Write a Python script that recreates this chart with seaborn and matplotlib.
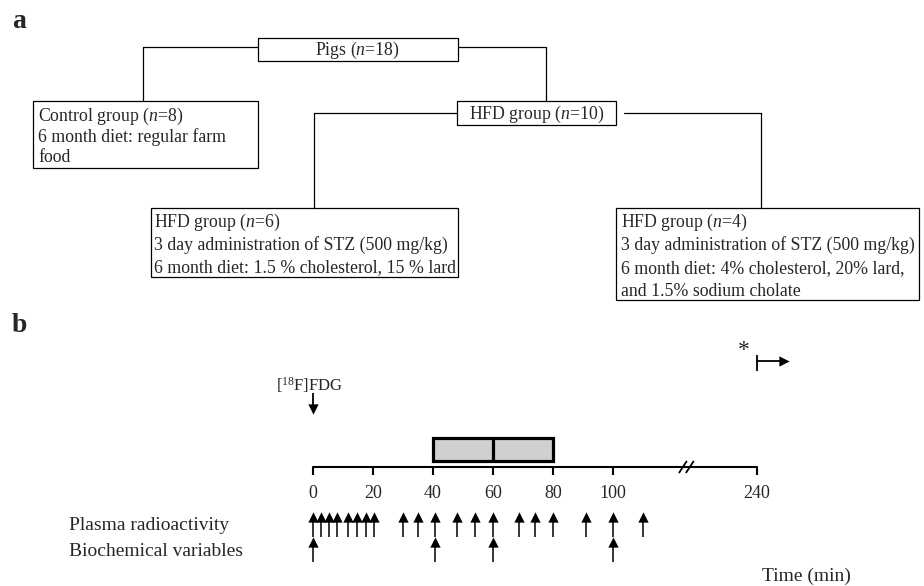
import matplotlib.pyplot as plt
import matplotlib.patches as mpatches
import seaborn as sns
import pandas as pd

# --- panel a: study groups
pigs_label = 'Pigs ($n$=18)'
control_lines = ['Control group ($n$=8)', '6 month diet: regular farm', 'food']
hfd_label = 'HFD group ($n$=10)'
hfd6_lines = ['HFD group ($n$=6)', '3 day administration of STZ (500 mg/kg)',
              '6 month diet: 1.5 % cholesterol, 15 % lard']
hfd4_lines = ['HFD group ($n$=4)', '3 day administration of STZ (500 mg/kg)',
              '6 month diet: 4% cholesterol, 20% lard,', 'and 1.5% sodium cholate']

# --- panel b: protocol timeline (min)
tick_times = [0, 20, 40, 60, 80, 100, 240]
plasma_times = [0, 2.6, 5.3, 8, 11.6, 14.5, 17.5, 20.4, 30, 35, 40.5,
                48, 54, 60, 68.5, 74, 80, 91, 100, 110]
biochem_times = [0, 40.5, 60, 100]
scan_times = [40, 60, 80]
fdg_time = 0
end_time = 240

sns.set_theme(style='white')
plt.rcParams['font.family'] = ['Liberation Serif', 'DejaVu Serif']
plt.rcParams['mathtext.fontset'] = 'custom'
plt.rcParams['mathtext.rm'] = 'Liberation Serif'
plt.rcParams['mathtext.it'] = 'Liberation Serif:italic'
plt.rcParams['mathtext.bf'] = 'Liberation Serif:bold'

fs = 12.8
lw = 0.9

fig = plt.figure(figsize=(9.24, 5.86), dpi=100)

# flow chart drawn in pixel units
ax = fig.add_axes([0, 0, 1, 1])
ax.set_xlim(0, 924)
ax.set_ylim(586, 0)
ax.axis('off')


def box(x0, y0, x1, y1):
    ax.add_patch(mpatches.Rectangle((x0, y0), x1 - x0, y1 - y0, fill=False,
                                    ec='black', lw=lw))


def lines(x, y0, lines_, step=22.5):
    for i, s in enumerate(lines_):
        ax.text(x, y0 + i * step, s, fontsize=fs, ha='left', va='center')


ax.text(12, 28, 'a', fontsize=20, fontweight='bold', va='baseline')
ax.text(12, 332, 'b', fontsize=20, fontweight='bold', va='baseline')

box(257.5, 37.5, 457.5, 61)
ax.text(357.5, 50.5, pigs_label, fontsize=fs, ha='center', va='center')
ax.plot([257.5, 143, 143], [47, 47, 100.5], color='black', lw=lw)
ax.plot([457.5, 546, 546], [47, 47, 100.5], color='black', lw=lw)

box(32.5, 100.5, 257.5, 167.5)
lines(38, 116.5, control_lines, step=20.5)

box(457, 100.5, 615.5, 124.5)
ax.text(536.5, 114, hfd_label, fontsize=fs, ha='center', va='center')
ax.plot([457, 314, 314], [113, 113, 207.5], color='black', lw=lw)
ax.plot([624, 760.5, 760.5], [113, 113, 207.5], color='black', lw=lw)

box(150.5, 207.5, 457.5, 277)
lines(154.5, 222, hfd6_lines, step=23)

box(616, 207.5, 919, 300)
lines(621, 222, hfd4_lines, step=23.2)

# timeline drawn in minutes (x) and pixels (y)
axt = fig.add_axes([0, 0, 1, 1], facecolor='none')


def tpos(t):
    # axis is broken after ~120 min, 240 min sits at 148
    return t if t <= 120 else 148


tfs = 14
axis_y = 467
axt.plot([tpos(0), tpos(end_time)], [axis_y, axis_y], color='black', lw=1.5)
axt.vlines([tpos(t) for t in tick_times], axis_y, axis_y + 8, color='black', lw=1.5)
for t in tick_times:
    axt.text(tpos(t), 493, str(t), fontsize=13, ha='center', va='center')
for p in [123.3, 125.6]:
    axt.plot([p - 1.2, p + 1.2], [472.5, 461.5], color='black', lw=1.3)

# PET scan frames
axt.add_patch(mpatches.Rectangle((scan_times[0], 438), scan_times[-1] - scan_times[0], 23,
                                 fc='#d0d0d0', ec='black', lw=2.3, zorder=3))
axt.vlines(scan_times[1], 438, 461, color='black', lw=2.3, zorder=4)

# injection
axt.text(tpos(fdg_time) - 1.3, 385, '[$^{18}$F]FDG', fontsize=12, ha='center', va='center')
axt.vlines(tpos(fdg_time), 393, 408, color='black', lw=1.3)
sns.scatterplot(data=pd.DataFrame({'x': [tpos(fdg_time)], 'y': [409]}), x='x', y='y',
                marker='v', s=55, color='black', edgecolor='black', linewidth=0, ax=axt)

# end of study marker
axt.text(tpos(end_time) - 4.3, 350, '*', fontsize=17, ha='center', va='center')
axt.vlines(tpos(end_time), 355, 371, color='black', lw=1.3)
axt.plot([tpos(end_time), tpos(end_time) + 8], [361, 361], color='black', lw=1.3)
sns.scatterplot(data=pd.DataFrame({'x': [tpos(end_time) + 9], 'y': [361]}), x='x', y='y',
                marker='>', s=55, color='black', edgecolor='black', linewidth=0, ax=axt)

# sampling arrows
samples = pd.concat([
    pd.DataFrame({'x': [tpos(t) for t in plasma_times], 'top': 513, 'bottom': 537}),
    pd.DataFrame({'x': [tpos(t) for t in biochem_times], 'top': 537.5, 'bottom': 562}),
])
axt.vlines(samples['x'], samples['top'] + 4, samples['bottom'], color='black', lw=1.1)
samples['head'] = samples['top'] + 4
sns.scatterplot(data=samples, x='x', y='head', marker='^', s=55, color='black',
                edgecolor='black', linewidth=0, ax=axt)

axt.text(-81.3, 525, 'Plasma radioactivity', fontsize=tfs, ha='left', va='center')
axt.text(-81.3, 551, 'Biochemical variables', fontsize=tfs, ha='left', va='center')
axt.text(149.7, 576, 'Time (min)', fontsize=tfs, ha='left', va='center')

axt.set_xlim(-313 / 3, (924 - 313) / 3)
axt.set_ylim(586, 0)
axt.axis('off')

fig.savefig('out.png', dpi=100)
